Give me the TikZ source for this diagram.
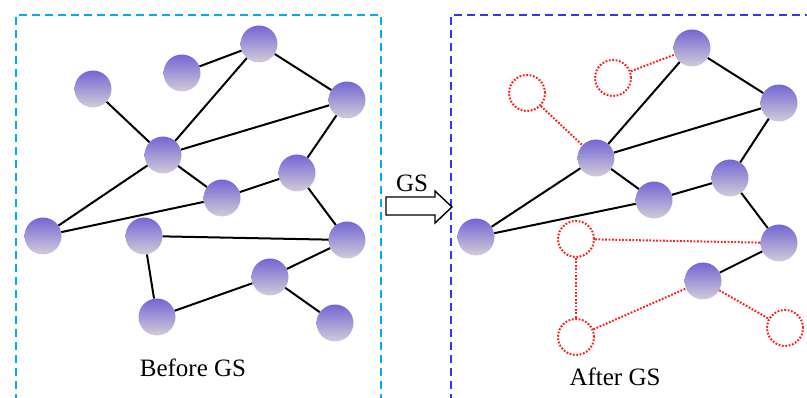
\documentclass[tikz,border=0pt]{standalone}
\usepackage{fontspec}
\setmainfont{Liberation Serif}
\definecolor{ntop}{HTML}{7466D4}
\definecolor{nmid}{HTML}{C5B4EC}
\definecolor{nbot}{HTML}{D2CCD8}
\definecolor{boxcyan}{HTML}{00AEEF}
\definecolor{boxblue}{HTML}{3535F0}
\definecolor{gone}{HTML}{FF2020}
\begin{document}
\begin{tikzpicture}[x=1pt,y=-1pt,
  vert/.style={circle,minimum size=37pt,inner sep=0pt,top color=ntop,middle color=nmid,bottom color=nbot,draw=none},
  ghost/.style={circle,minimum size=36pt,inner sep=0pt,draw=gone,line width=2pt,dash pattern=on 1.8pt off 1.6pt,fill=white},
  edge/.style={black,line width=2pt},
  redge/.style={gone,line width=2pt,dash pattern=on 1.8pt off 1.6pt},
  lbl/.style={font=\fontsize{25}{28}\selectfont,inner sep=0pt}]
\useasboundingbox (0,0) rectangle (807,398);
% boxes
\draw[boxcyan,line width=2.6pt,dash pattern=on 8pt off 5pt] (16,402) -- (16,15) -- (381,15) -- (381,402);
\draw[boxblue,line width=2.6pt,dash pattern=on 8pt off 5pt] (451,402) -- (451,15) -- (812,15);
% left graph
\node[vert] (A) at (93,89) {};
\node[vert] (B) at (182,73) {};
\node[vert] (C) at (259,44) {};
\node[vert] (D) at (347,100) {};
\node[vert] (E) at (163,155) {};
\node[vert] (F) at (297,173) {};
\node[vert] (G) at (222,198) {};
\node[vert] (H) at (43,236) {};
\node[vert] (I) at (144,236) {};
\node[vert] (J) at (347,240) {};
\node[vert] (K) at (270,277) {};
\node[vert] (L) at (157,317) {};
\node[vert] (M) at (335,323) {};
\draw[edge] (A) -- (E);
\draw[edge] (B) -- (C);
\draw[edge] (C) -- (E);
\draw[edge] (C) -- (D);
\draw[edge] (D) -- (E);
\draw[edge] (D) -- (F);
\draw[edge] (E) -- (G);
\draw[edge] (E) -- (H);
\draw[edge] (G) -- (F);
\draw[edge] (H) -- (G);
\draw[edge] (F) -- (J);
\draw[edge] (I) -- (J);
\draw[edge] (I) -- (L);
\draw[edge] (L) -- (K);
\draw[edge] (K) -- (J);
\draw[edge] (K) -- (M);
\node[lbl] (before) at (193,368) {Before GS};
% arrow
\draw[black,line width=1.4pt,fill=white] (386,197) -- (435,197) -- (435,191) -- (452,207) -- (435,223) -- (435,215) -- (386,215) -- cycle;
\node[lbl] (gs) at (412,183) {GS};
% right graph
\node[ghost] (A2) at (527,93) {};
\node[ghost] (B2) at (613,78) {};
\node[vert] (C2) at (692,48) {};
\node[vert] (D2) at (779,103) {};
\node[vert] (E2) at (596,158) {};
\node[vert] (F2) at (730,178) {};
\node[vert] (G2) at (654,200) {};
\node[vert] (H2) at (476,237) {};
\node[ghost] (I2) at (576,239) {};
\node[vert] (J2) at (779,243) {};
\node[vert] (K2) at (703,281) {};
\node[ghost] (L2) at (576,337) {};
\node[ghost] (M2) at (785,328) {};
\draw[redge] (A2) -- (E2);
\draw[redge] (B2) -- (C2);
\draw[edge] (C2) -- (E2);
\draw[edge] (C2) -- (D2);
\draw[edge] (D2) -- (E2);
\draw[edge] (D2) -- (F2);
\draw[edge] (E2) -- (G2);
\draw[edge] (E2) -- (H2);
\draw[edge] (G2) -- (F2);
\draw[edge] (H2) -- (G2);
\draw[edge] (F2) -- (J2);
\draw[redge] (I2) -- (J2);
\draw[redge] (I2) -- (L2);
\draw[redge] (L2) -- (K2);
\draw[edge] (K2) -- (J2);
\draw[redge] (K2) -- (M2);
\node[lbl] (after) at (615,377) {After GS};
\end{tikzpicture}
\end{document}
